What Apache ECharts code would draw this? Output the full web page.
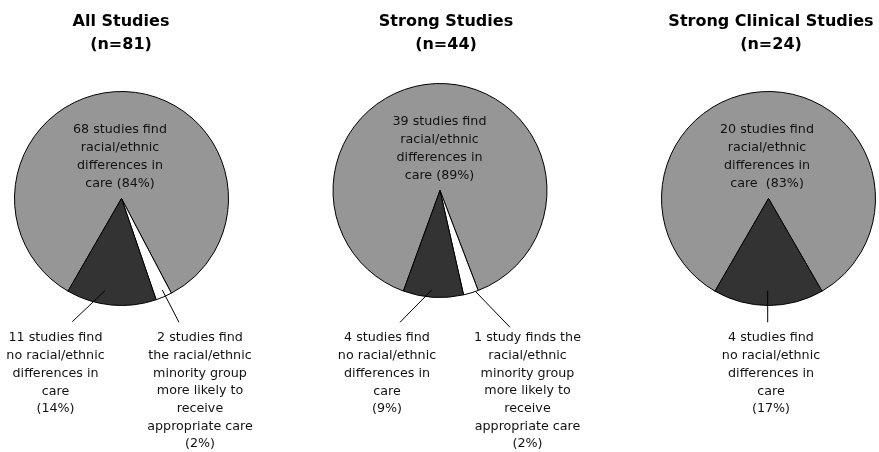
<!DOCTYPE html>
<html><head><meta charset="utf-8">
<script src="https://cdn.jsdelivr.net/npm/echarts@6/dist/echarts.min.js"></script>
<style>html,body{margin:0;padding:0;background:#fff}#c{width:879px;height:452px}</style>
</head><body><div id="c"></div>
<script>
// Data
const titles = ['All Studies\n(n=81)', 'Strong Studies\n(n=44)', 'Strong Clinical Studies\n(n=24)'];
const allValues = [68, 2, 11];
const allLabels = ['68 studies find\nracial/ethnic\ndifferences in\ncare (84%)',
  '2 studies find\nthe racial/ethnic\nminority group\nmore likely to\nreceive\nappropriate care\n(2%)',
  '11 studies find\nno racial/ethnic\ndifferences in\ncare\n(14%)'];
const strongValues = [39, 1, 4];
const strongLabels = ['39 studies find\nracial/ethnic\ndifferences in\ncare (89%)',
  '1 study finds the\nracial/ethnic\nminority group\nmore likely to\nreceive\nappropriate care\n(2%)',
  '4 studies find\nno racial/ethnic\ndifferences in\ncare\n(9%)'];
const clinicalValues = [20, 4];
const clinicalLabels = ['20 studies find\nracial/ethnic\ndifferences in\ncare  (83%)',
  '4 studies find\nno racial/ethnic\ndifferences in\ncare\n(17%)'];

const GRAY = '#969696', WHITE = '#ffffff', DARK = '#333333';
const FONT = 'DejaVu Sans';

// layout: label centers per series/data index
const layouts = [
  [{x:120, y:157}, {x:200, y:391}, {x:55.5, y:373.5}],
  [{x:439.5, y:149}, {x:527.5, y:391}, {x:387, y:373.5}],
  [{x:767, y:157}, {x:771, y:373.5}]
];
// leader lines (annotation layout)
const leaders = [
  [[162.3,290],[179,322.3]], [[105,290.7],[72.3,321.7]],
  [[475.7,291.7],[510,327.3]], [[431.7,290],[400,322.3]],
  [[767.7,290.7],[767.7,322.3]]
];

function makeData(values, labels, colors) {
  return values.map((v, i) => ({
    value: v,
    name: labels[i],
    itemStyle: {color: colors[i]},
    label: {lineHeight: i === 0 ? 18 : 17.7}
  }));
}

function pieSeries(idx, center, startAngle, data) {
  return {
    type: 'pie',
    silent: true,
    center: center,
    radius: [0, 107],
    startAngle: startAngle,
    clockwise: true,
    avoidLabelOverlap: false,
    itemStyle: {borderColor: '#000', borderWidth: 1},
    label: {
      show: true, position: 'outside', formatter: '{b}',
      fontFamily: FONT, fontSize: 12.7, color: '#111', align: 'center'
    },
    labelLine: {show: false},
    labelLayout: function (p) {
      const L = layouts[idx][p.dataIndex];
      return {x: L.x, y: L.y, align: 'center', verticalAlign: 'middle'};
    },
    emphasis: {disabled: true},
    data: data
  };
}

const titleX = [121, 446, 771];
const graphics = titles.map((t, i) => ({
  type:'text', x:titleX[i], y:33.5,
  style:{text:t, align:'center', verticalAlign:'middle', font:'bold 16px "DejaVu Sans"', lineHeight:23, fill:'#000'}
}));
leaders.forEach(l => graphics.push({
  type:'line', z:100, silent:true,
  shape:{x1:l[0][0], y1:l[0][1], x2:l[1][0], y2:l[1][1]},
  style:{stroke:'#000', lineWidth:1}
}));

const chart = echarts.init(document.getElementById('c'), null, {renderer: 'canvas'});
chart.setOption({
  animation: false,
  backgroundColor: '#fff',
  graphic: graphics,
  series: [
    pieSeries(0, [121.5, 198.5], 240, makeData(allValues, allLabels, [GRAY, WHITE, DARK])),
    pieSeries(1, [440, 190.5], 250, makeData(strongValues, strongLabels, [GRAY, WHITE, DARK])),
    pieSeries(2, [768.5, 198.5], 240, makeData(clinicalValues, clinicalLabels, [GRAY, DARK]))
  ]
});
</script></body></html>
